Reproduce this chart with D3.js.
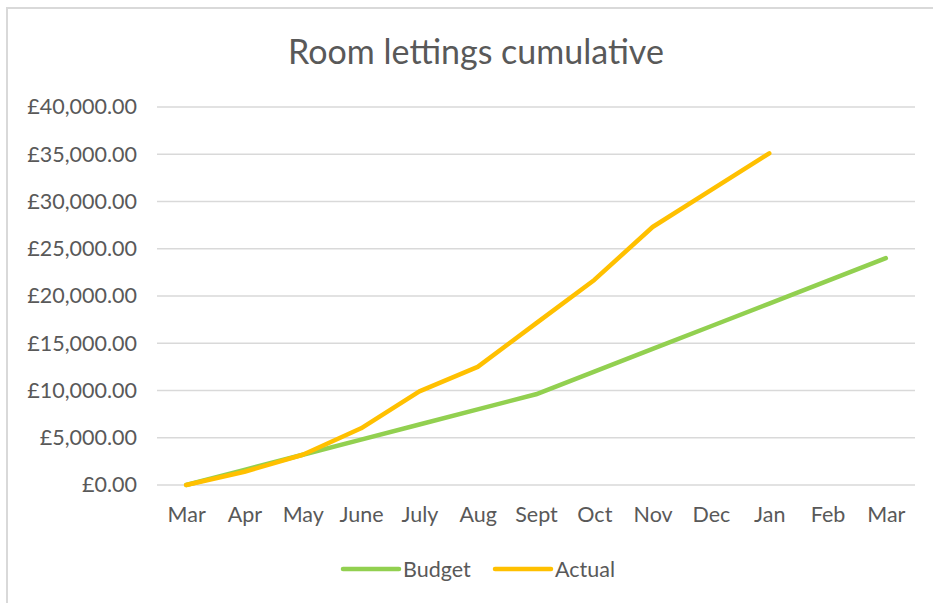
<!DOCTYPE html>
<html>
<head>
<meta charset="utf-8">
<script src="https://cdn.jsdelivr.net/npm/d3@7"></script>
<style>
  body { margin: 0; background: #fff; }
  svg text { font-family: Lato, "Open Sans", sans-serif; fill: #595959; }
</style>
</head>
<body>
<div id="chart"></div>
<script>
// months along the x axis (financial year Mar to Mar)
var months = ["Mar", "Apr", "May", "June", "July", "Aug", "Sept", "Oct", "Nov", "Dec", "Jan", "Feb", "Mar"];

// cumulative values
var budget = [0, 1600, 3200, 4800, 6400, 8000, 9600, 12000, 14400, 16800, 19200, 21600, 24000];
var actual = [0, 1400, 3200, 6000, 9900, 12500, 17100, 21700, 27300, 31200, 35100];

var yTicks = [0, 5000, 10000, 15000, 20000, 25000, 30000, 35000, 40000];

var width = 933,
    height = 603;

var margin = {top: 107, right: 18, bottom: 118, left: 157};

var svg = d3.select("#chart")
    .append("svg")
    .attr("width", width)
    .attr("height", height);

// chart border (only top and left are visible in the frame)
svg.append("rect")
    .attr("x", 7)
    .attr("y", 8)
    .attr("width", 940)
    .attr("height", 620)
    .attr("fill", "none")
    .attr("stroke", "#d9d9d9")
    .attr("stroke-width", 2);

// title
svg.append("text")
    .attr("x", 476)
    .attr("y", 64)
    .attr("text-anchor", "middle")
    .style("font-size", "34px")
    .text("Room lettings cumulative");

// scales
var x = d3.scalePoint()
    .domain(d3.range(months.length))
    .range([margin.left, width - margin.right])
    .padding(0.5);

var y = d3.scaleLinear()
    .domain([0, 40000])
    .range([height - margin.bottom, margin.top]);

// gridlines
svg.append("g")
    .attr("class", "grid")
  .selectAll("line")
    .data(yTicks)
  .enter().append("line")
    .attr("x1", margin.left)
    .attr("x2", width - margin.right)
    .attr("y1", function(d) { return y(d); })
    .attr("y2", function(d) { return y(d); })
    .attr("stroke", "#d9d9d9")
    .attr("stroke-width", 1.5);

// y axis
var fmt = d3.format(",.2f");
var yAxis = d3.axisLeft(y)
    .tickValues(yTicks)
    .tickSize(0)
    .tickPadding(20)
    .tickFormat(function(d) { return "£" + fmt(d); });

var gy = svg.append("g")
    .attr("transform", "translate(" + margin.left + ",0)")
    .call(yAxis);
gy.select(".domain").remove();
gy.selectAll("text")
    .style("font-size", "21.5px")
    .attr("fill", "#595959");

// x axis
var xAxis = d3.axisBottom(x)
    .tickSize(0)
    .tickPadding(22)
    .tickFormat(function(i) { return months[i]; });

var gx = svg.append("g")
    .attr("transform", "translate(0," + y(0) + ")")
    .call(xAxis);
gx.select(".domain").remove();
gx.selectAll("text")
    .style("font-size", "21.5px")
    .attr("fill", "#595959");

// lines
var line = d3.line()
    .x(function(d, i) { return x(i); })
    .y(function(d) { return y(d); });

var series = [
  {name: "Budget", values: budget, color: "#92d050"},
  {name: "Actual", values: actual, color: "#ffc000"}
];

svg.selectAll(".series")
    .data(series)
  .enter().append("path")
    .attr("class", "series")
    .attr("d", function(d) { return line(d.values); })
    .attr("fill", "none")
    .attr("stroke", function(d) { return d.color; })
    .attr("stroke-width", 4.5)
    .attr("stroke-linecap", "round")
    .attr("stroke-linejoin", "round");

// legend
var legendX = [343, 495];
var legend = svg.selectAll(".legend")
    .data(series)
  .enter().append("g")
    .attr("class", "legend")
    .attr("transform", function(d, i) { return "translate(" + legendX[i] + ",569)"; });

legend.append("line")
    .attr("x1", 0)
    .attr("x2", 56)
    .attr("stroke", function(d) { return d.color; })
    .attr("stroke-width", 4.5)
    .attr("stroke-linecap", "round");

legend.append("text")
    .attr("x", 60)
    .attr("dy", "0.35em")
    .style("font-size", "21.5px")
    .text(function(d) { return d.name; });
</script>
</body>
</html>
